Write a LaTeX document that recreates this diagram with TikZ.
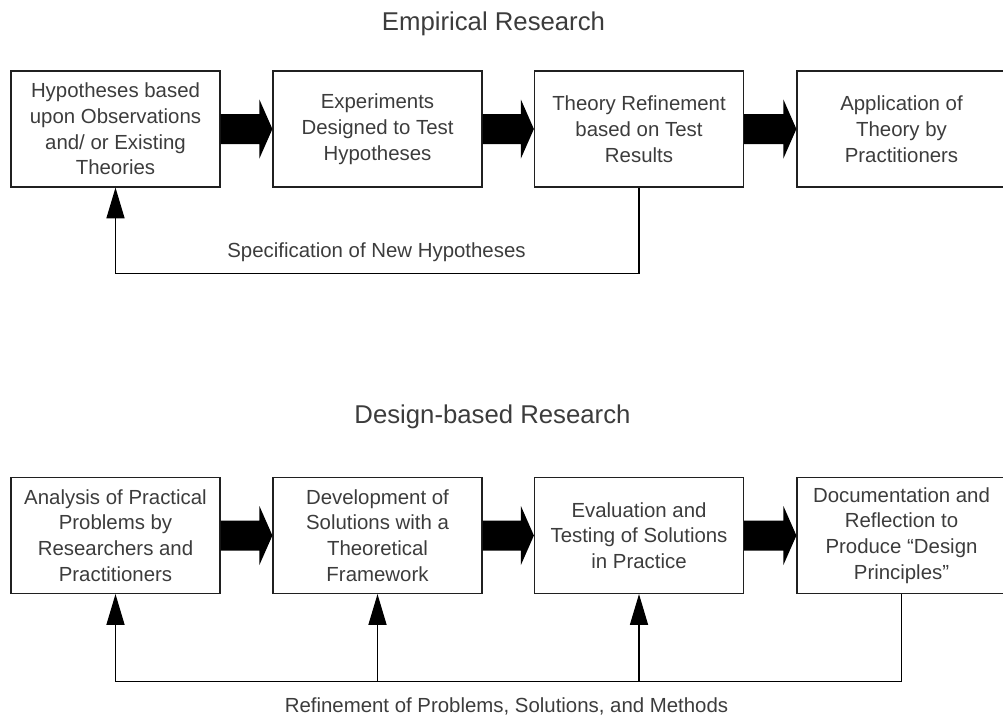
\documentclass[tikz,border=0pt]{standalone}
\usepackage{fontspec}
\setmainfont{Liberation Sans}
\usetikzlibrary{calc,arrows.meta}
\definecolor{txtgray}{HTML}{3C3C3C}
\definecolor{edgegray}{HTML}{202020}

% thick block arrow between two neighbouring boxes
\newcommand{\blockarrow}[2]{%
  \fill[black] ($(#1.east)+(0,15)$) -- ($(#2.west)+(-13,15)$)
    -- ($(#2.west)+(-13,29.5)$) -- (#2.west) -- ($(#2.west)+(-13,-29.5)$)
    -- ($(#2.west)+(-13,-15)$) -- ($(#1.east)+(0,-15)$) -- cycle;}

\begin{document}
\begin{tikzpicture}[x=0.75pt,y=-0.75pt,
  every node/.style={text=txtgray},
  stagebox/.style={draw=edgegray,line width=0.9pt,rectangle,
    minimum width=156.75pt,minimum height=87pt,inner sep=0pt,
    align=center,font=\fontsize{15.3}{19.3}\selectfont},
  heading/.style={anchor=base,font=\fontsize{19.3}{23}\selectfont},
  caption/.style={anchor=base,font=\fontsize{15.3}{19.3}\selectfont},
  feedback/.style={draw=black,line width=0.9pt},
  uparrow/.style={feedback,-{Triangle[width=13.5pt,length=23pt]}}]
\useasboundingbox (0,0) rectangle (1003,721);

% ---------- Empirical research ----------
\node[heading] (h1) at (493.5,31) {Empirical Research};

\node[stagebox] (t1) at (115.5,129) {Hypotheses based\\upon Observations\\and/ or Existing\\Theories};
\node[stagebox] (t2) at (377.5,129) {Experiments\\Designed to Test\\Hypotheses};
\node[stagebox] (t3) at (639,129) {Theory Refinement\\based on Test\\Results};
\node[stagebox] (t4) at (901.5,129) {Application of\\Theory by\\Practitioners};

\blockarrow{t1}{t2}
\blockarrow{t2}{t3}
\blockarrow{t3}{t4}

\coordinate (tloop) at ($(t3.south)+(0,86)$);
\draw[uparrow] (t3.south) -- (tloop) -| (t1.south);
\node[caption] (tlabel) at (376.5,257) {Specification of New Hypotheses};

% ---------- Design-based research ----------
\node[heading] (h2) at (492.5,423) {Design-based Research};

\node[stagebox] (b1) at (115.5,535.5) {Analysis of Practical\\Problems by\\Researchers and\\Practitioners};
\node[stagebox] (b2) at (377.5,535.5) {Development of\\Solutions with a\\Theoretical\\Framework};
\node[stagebox] (b3) at (639,535.5) {Evaluation and\\Testing of Solutions\\in Practice};
\node[stagebox] (b4) at (901.5,535.5) {Documentation and\\Reflection to\\Produce “Design\\Principles”};

\blockarrow{b1}{b2}
\blockarrow{b2}{b3}
\blockarrow{b3}{b4}

\coordinate (bloop) at ($(b4.south)+(0,87)$);
\draw[uparrow] (b4.south) -- (bloop) -| (b1.south);
\draw[uparrow] (b2.south |- bloop) -- (b2.south);
\draw[uparrow] (b3.south |- bloop) -- (b3.south);
\node[caption] (blabel) at (506.5,712) {Refinement of Problems, Solutions, and Methods};
\end{tikzpicture}
\end{document}
